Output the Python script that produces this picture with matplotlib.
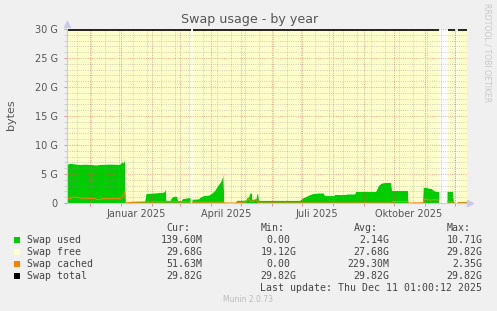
import datetime as dt
import numpy as np
import matplotlib
matplotlib.use("Agg")
import matplotlib.pyplot as plt

nan = np.nan

# ---------------- data (x = days since 2024-11-08, values in GiB) ----------------
start = dt.datetime(2024, 11, 8)
span_days = 400

used_x = [0, 3, 7, 13, 19, 25, 30, 35, 41, 47, 52, 54, 55, 56, 57.5, 58, 58.6, 63, 64, 78,
          79.5, 85, 91, 96, 98, 98.8, 99.5, 103.5, 105, 107, 110.5, 111, 114.5, 116, 120, 123.5,
          124.5, 125.5, 132, 134, 137, 142, 145, 148, 151, 154, 155.5, 156.5, 157.3, 169, 170,
          179, 180, 182, 183, 185, 185.5, 189, 190.5, 191.5, 192, 233, 236, 241, 245, 251, 257,
          258, 267, 268, 279, 280, 288, 289, 309, 312, 315, 323, 324.5, 325, 341, 341.5, 356,
          356.5, 360, 365, 368, 372, 376, 380.5, 386, 387, 388, 389, 391, 400]
used_v = [6.6, 6.75, 6.7, 6.6, 6.65, 6.55, 6.5, 6.6, 6.65, 6.65, 6.6, 6.7, 7.2, 6.8, 7.1, 7.9,
          0.05, 0.05, 0.25, 0.25, 1.6, 1.65, 1.7, 1.8, 1.9, 2.5, 0.4, 0.4, 0.9, 1.1, 1.1, 0.35,
          0.35, 0.7, 0.8, 0.9, nan, 0.6, 0.65, 1.0, 1.2, 1.3, 1.6, 2.1, 2.9, 3.6, 4.3, 5.0, 0.05,
          0.05, 0.4, 0.45, 0.8, 1.0, 1.6, 1.7, 0.6, 0.6, 1.55, 1.5, 0.4, 0.4, 0.8, 1.2, 1.5,
          1.67, 1.67, 1.2, 1.2, 1.4, 1.4, 1.5, 1.5, 1.9, 1.9, 3.0, 3.4, 3.5, 3.4, 2.1, 2.1, 0.0,
          0.0, 2.6, 2.6, 2.4, 2.0, 1.9, nan, 1.95, 1.95, 0.14, 0.14, nan, 0.14, 0.14]

cached_x = [0, 3, 5, 11, 13, 28, 30, 33, 35, 54, 56, 58, 58.6, 73, 98, 123.5, 124.5, 125.5,
            157, 157.5, 169, 173, 179, 182, 184, 186, 189, 190.5, 192, 325, 325.5, 341, 341.5,
            356, 358, 361, 364, 367, 372, 376, 380.5, 387, 389, 391, 400]
cached_v = [0.8, 0.75, 1.0, 1.0, 0.85, 0.8, 0.6, 0.55, 0.75, 0.75, 1.3, 2.0, 0.05, 0.15, 0.2,
            0.2, nan, 0.15, 0.15, 0.0, 0.0, 0.1, 0.2, 0.7, 0.25, 0.3, 0.65, 0.3, 0.0, 0.0, 0.25,
            0.25, 0.0, 0.05, 0.7, 0.55, 0.5, 0.6, 0.5, nan, 0.25, 0.1, nan, 0.05, 0.05]

total_value = 29.82

legend_names = ["Swap used", "Swap free", "Swap cached", "Swap total"]
legend_colors = ["#00CC00", "#FFFFCC", "#FF8000", "#000000"]
cur_vals = ["139.60M", "29.68G", "51.63M", "29.82G"]
min_vals = ["0.00", "19.12G", "0.00", "29.82G"]
avg_vals = ["2.14G", "27.68G", "229.30M", "29.82G"]
max_vals = ["10.71G", "29.82G", "2.35G", "29.82G"]

ytick_vals = [0, 5, 10, 15, 20, 25, 30]
ytick_labels = ["0", "5 G", "10 G", "15 G", "20 G", "25 G", "30 G"]
xlabel_months = [(2025, 1, "Januar 2025"), (2025, 4, "April 2025"),
                 (2025, 7, "Juli 2025"), (2025, 10, "Oktober 2025")]

# ---------------- figure ----------------
W, H = 497, 311
fig = plt.figure(figsize=(W / 100, H / 100), dpi=100, facecolor="#F0F0F0")
L, R, T, B = 67, 467, 29, 203
ax = fig.add_axes([L / W, 1 - B / H, (R - L) / W, (B - T) / H])
ax.set_facecolor("white")

def dpos(d):
    return (d - start).total_seconds() / 86400.0

ux = np.array(used_x, float)
uv = np.array(used_v, float)
top = np.where(np.isnan(uv), nan, total_value)

ax.fill_between(ux, 0, uv, color=legend_colors[0], lw=0, zorder=2)
ax.fill_between(ux, uv, top, color=legend_colors[1], lw=0, zorder=2)
ax.plot(cached_x, cached_v, color=legend_colors[2], lw=0.75, zorder=4)
ax.plot(ux, top, color=legend_colors[3], lw=1.2, zorder=4, solid_capstyle="butt")

ax.set_xlim(0, span_days)
ax.set_ylim(0, 30)

# grid lines
gcol = (0.55, 0.55, 0.55, 0.42)
rcol = (0.9, 0.3, 0.3, 0.5)
dash = (0, (1.0, 1.3))
for v in np.arange(1, 31):
    c = rcol if v % 5 == 0 else gcol
    ax.axhline(v, color=c, lw=0.7, ls=dash, zorder=3)

month_pos = []
d = dt.datetime(2024, 12, 1)
while d < start + dt.timedelta(days=span_days):
    month_pos.append(dpos(d))
    d = dt.datetime(d.year + (d.month // 12), d.month % 12 + 1, 1)
week_pos = []
d = dt.datetime(2024, 11, 18)
while d < start + dt.timedelta(days=span_days):
    week_pos.append(dpos(d))
    d += dt.timedelta(days=14)
for p in week_pos:
    ax.axvline(p, color=gcol, lw=0.7, ls=dash, zorder=3)
for p in month_pos:
    ax.axvline(p, color=rcol, lw=0.7, ls=dash, zorder=3)

# ticks
ax.set_xticks(month_pos)
ax.set_xticklabels([])
ax.tick_params(axis="x", which="major", length=2, width=0.6, color="#E08080", direction="out")
lab_pos = [dpos(dt.datetime(y, m, 1)) + 15 for y, m, _ in xlabel_months]
ax.set_xticks(lab_pos, minor=True)
ax.set_xticklabels([t for _, _, t in xlabel_months], minor=True)
ax.tick_params(axis="x", which="minor", length=0, pad=4.5, labelsize=7, labelcolor="#555555")

ax.set_yticks(ytick_vals)
ax.set_yticklabels(ytick_labels)
ax.set_yticks(np.arange(0, 31), minor=True)
ax.tick_params(axis="y", which="major", length=2, width=0.6, color="#E08080", direction="out",
               pad=4.5, labelsize=7, labelcolor="#555555")
ax.tick_params(axis="y", which="minor", length=2, width=0.6, color="#C8C8C8", direction="out")

for s in ["top", "right"]:
    ax.spines[s].set_visible(False)
for s in ["left", "bottom"]:
    ax.spines[s].set_color("#C8C8E8")
    ax.spines[s].set_linewidth(0.8)
    ax.spines[s].set_zorder(5)

# axis arrows
fig.add_artist(plt.Line2D([L / W], [1 - 24 / H], marker="^", ms=4, color="#C8C8F0", lw=0))
fig.add_artist(plt.Line2D([470 / W], [1 - 203 / H], marker=">", ms=4, color="#C8C8F0", lw=0))

# texts
fig.text(250 / W, 1 - 19 / H, "Swap usage - by year", ha="center", va="center",
         fontsize=9.1, color="#555555")
fig.text(11 / W, 1 - 115 / H, "bytes", ha="center", va="center", rotation=90,
         fontsize=8, color="#555555")
fig.text(487 / W, 1 - 53 / H, "RRDTOOL / TOBI OETIKER", ha="center", va="center",
         rotation=270, fontsize=5.6, color="#C8C8C8")

mono = dict(family="DejaVu Sans Mono", fontsize=7.1, color="#444444")
cw = 5.96
col_right = [202.7, 296.7, 389.3, 482.3]
headers = ["Cur:", "Min:", "Avg:", "Max:"]
for h, cr in zip(headers, col_right):
    fig.text((cr - 2 * cw) / W, 1 - 228 / H, h, ha="right", va="center", **mono)

rows_y = [240, 252, 264, 276]
for i, y in enumerate(rows_y):
    fig.add_artist(plt.Rectangle((14 / W, 1 - (y + 3) / H), 6 / W, 6 / H,
                                 transform=fig.transFigure, color=legend_colors[i], lw=0))
    fig.text(26.7 / W, 1 - y / H, legend_names[i], ha="left", va="center", **mono)
    for vals, cr in zip([cur_vals, min_vals, avg_vals, max_vals], col_right):
        s = vals[i]
        x = cr if s[-1].isalpha() else cr - cw
        fig.text(x / W, 1 - y / H, s, ha="right", va="center", **mono)

fig.text(482.3 / W, 1 - 288 / H, "Last update: Thu Dec 11 01:00:12 2025", ha="right",
         va="center", **mono)
fig.text(248 / W, 1 - 299.5 / H, "Munin 2.0.73", ha="center", va="center", fontsize=5.5,
         color="#BBBBBB")

fig.savefig("out.png", dpi=100, facecolor=fig.get_facecolor())
